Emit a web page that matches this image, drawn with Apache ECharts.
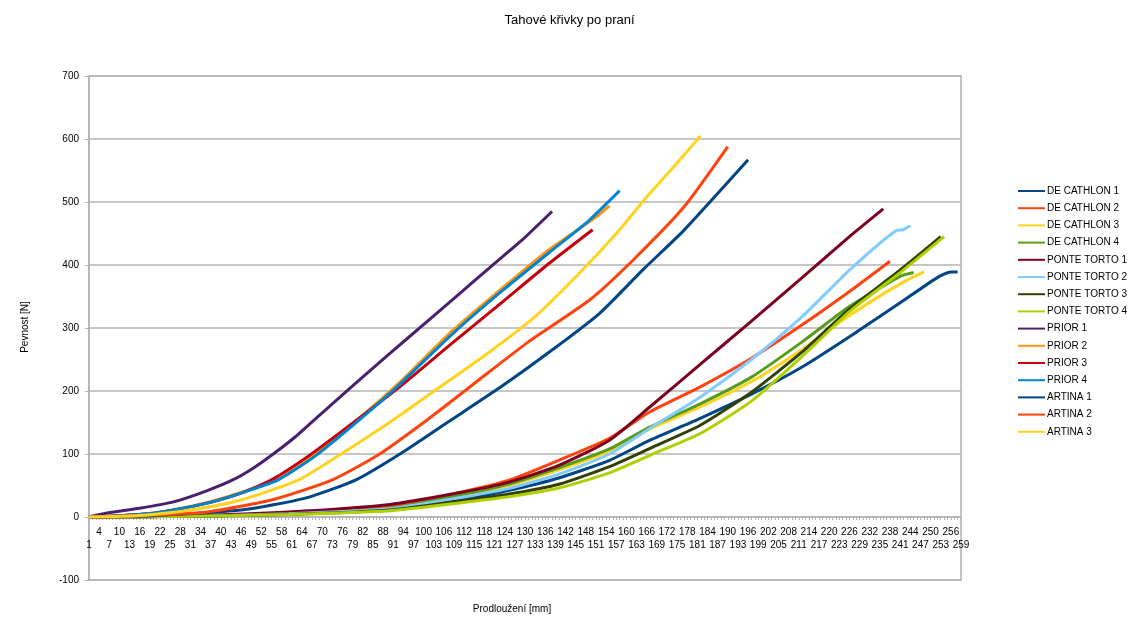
<!DOCTYPE html>
<html>
<head>
<meta charset="utf-8">
<title>Tahové křivky po praní</title>
<script src="https://cdn.jsdelivr.net/npm/echarts@6/dist/echarts.min.js"></script>
<style>
  html, body { margin: 0; padding: 0; background: #fff; }
  #chart { width: 1139px; height: 619px; }
</style>
</head>
<body>
<div id="chart"></div>
<script>
// Elongation steps (category axis 1..259)
const stepCount = 259;
const categories = Array.from({ length: stepCount }, (_, i) => String(i + 1));

// Series names
const seriesNames = [
  'DE CATHLON 1', 'DE CATHLON 2', 'DE CATHLON 3', 'DE CATHLON 4',
  'PONTE TORTO 1', 'PONTE TORTO 2', 'PONTE TORTO 3', 'PONTE TORTO 4',
  'PRIOR 1', 'PRIOR 2', 'PRIOR 3', 'PRIOR 4',
  'ARTINA 1', 'ARTINA 2', 'ARTINA 3'
];

// Measured curves: [step, force N]
const deCathlon1 = [[1,0],[30,1],[60,5],[90,12],[110,26],[125,42],[140,62],[155,90],[167,122],[182,157],[197,195],[212,238],[226,286],[241,340],[252,380],[256,389],[258,389]];
const deCathlon2 = [[1,0],[30,1],[60,6],[90,16],[110,38],[125,58],[140,90],[155,125],[167,167],[182,207],[197,252],[212,305],[226,358],[238,406]];
const deCathlon3 = [[1,0],[30,1],[60,5],[90,13],[110,32],[125,50],[140,75],[155,105],[167,140],[182,175],[197,215],[212,266],[226,320],[241,370],[248,389]];
const deCathlon4 = [[1,0],[30,1],[60,5],[90,14],[110,34],[125,52],[140,78],[155,108],[167,143],[182,180],[197,222],[212,278],[226,334],[241,382],[245,388]];
const ponteTorto1 = [[1,0],[30,2],[60,8],[90,20],[110,38],[125,55],[140,82],[155,122],[167,175],[182,243],[197,311],[212,380],[226,445],[236,489]];
const ponteTorto2 = [[1,0],[30,1],[60,5],[90,13],[110,30],[125,45],[140,68],[155,100],[167,141],[182,191],[197,250],[212,318],[226,392],[240,455],[242,456],[244,463]];
const ponteTorto3 = [[1,0],[30,1],[60,4],[90,11],[110,25],[125,36],[140,52],[155,80],[167,109],[182,146],[197,198],[212,262],[226,330],[241,392],[253,445]];
const ponteTorto4 = [[1,0],[30,1],[60,4],[90,10],[110,22],[125,32],[140,46],[155,70],[167,98],[182,133],[197,184],[212,255],[226,326],[241,388],[254,445]];
const prior1 = [[1,0],[6,6],[16,14],[26,24],[36,42],[44,60],[50,79],[56,102],[62,127],[67,151],[79,208],[89,255],[101,310],[111,356],[120,398],[129,439],[138,485]];
const prior2 = [[1,0],[10,2],[20,6],[26,11],[36,23],[46,39],[57,61],[68,100],[81,157],[93,214],[108,293],[123,362],[137,424],[150,472],[155,494]];
const prior3 = [[1,0],[10,2],[20,6],[26,11],[36,22],[46,38],[55,59],[66,97],[78,145],[93,207],[108,274],[123,340],[137,402],[150,456]];
const prior4 = [[1,0],[10,2],[20,6],[26,11],[36,22],[46,38],[57,59],[68,97],[81,154],[93,211],[108,288],[123,358],[137,419],[149,471],[158,518]];
const artina1 = [[1,0],[10,1],[20,2],[46,11],[65,30],[80,59],[93,100],[107,150],[123,207],[138,265],[152,323],[165,393],[177,455],[196,567]];
const artina2 = [[1,0],[10,1],[20,3],[36,8],[55,27],[73,59],[87,100],[101,154],[115,212],[131,278],[149,344],[162,408],[177,492],[190,588]];
const artina3 = [[1,0],[10,1],[20,4],[31,11],[46,27],[63,59],[75,98],[91,154],[105,207],[119,260],[133,318],[147,392],[158,456],[166,508],[174,556],[182,605]];

const seriesValues = [
  deCathlon1, deCathlon2, deCathlon3, deCathlon4,
  ponteTorto1, ponteTorto2, ponteTorto3, ponteTorto4,
  prior1, prior2, prior3, prior4,
  artina1, artina2, artina3
];

const seriesColors = [
  '#004586', '#ff420e', '#ffd320', '#579d1c',
  '#7e0021', '#83caff', '#314004', '#aecf00',
  '#4b1f6f', '#ff950e', '#c5000b', '#0084d1',
  '#004586', '#ff420e', '#ffd320'
];

// Force axis ticks
const yMin = -100, yMax = 700, yStep = 100;

const font = '"Liberation Sans", Arial, sans-serif';
const gridColor = '#b3b3b3';

// Plot box in pixels; the category axis sits on the zero line
const plot = { left: 89, right: 178, top: 76, bottom: 39 };
const plotHeight = 619 - plot.top - plot.bottom;
const zeroOffset = plotHeight * (0 - yMin) / (yMax - yMin);

// Step labels: every third step, alternating between two rows
const labelStyle = { fontSize: 10, color: '#000', fontFamily: font };
const upperRow = (index) => index % 6 === 3;
const lowerRow = (index) => index % 6 === 0;

const chart = echarts.init(document.getElementById('chart'), null, { renderer: 'canvas' });

chart.setOption({
  animation: false,
  backgroundColor: '#ffffff',
  textStyle: { fontFamily: font },
  title: {
    text: 'Tahové křivky po praní',
    left: 'center',
    top: 9,
    textStyle: { fontFamily: font, fontSize: 13, fontWeight: 'normal', color: '#000' }
  },
  legend: {
    orient: 'vertical',
    left: 1013,
    top: 181,
    itemWidth: 27,
    itemHeight: 10,
    itemGap: 7.2,
    icon: 'path://M0,4 L27,4 L27,6 L0,6 Z',
    textStyle: { fontFamily: font, fontSize: 10, color: '#000', padding: [0, 0, 0, -3] },
    data: seriesNames
  },
  grid: {
    left: plot.left, right: plot.right, top: plot.top, bottom: plot.bottom,
    show: true, borderColor: gridColor, borderWidth: 1.5
  },
  xAxis: [
    {
      type: 'category',
      data: categories,
      boundaryGap: false,
      offset: -zeroOffset,
      axisLine: { onZero: false, lineStyle: { color: gridColor, width: 1.5 } },
      axisTick: { show: true, interval: 0, length: 3, lineStyle: { color: gridColor } },
      axisLabel: Object.assign({ interval: upperRow, margin: 10 }, labelStyle),
      splitLine: { show: false }
    },
    {
      type: 'category',
      data: categories,
      boundaryGap: false,
      position: 'bottom',
      offset: -zeroOffset,
      axisLine: { show: false, onZero: false },
      axisTick: { show: false },
      axisLabel: Object.assign({ interval: lowerRow, margin: 23.5, showMinLabel: true, showMaxLabel: true }, labelStyle),
      splitLine: { show: false }
    }
  ],
  yAxis: {
    type: 'value',
    min: yMin, max: yMax, interval: yStep,
    axisLine: { show: true, lineStyle: { color: gridColor, width: 1.5 } },
    axisTick: { show: true, length: 4, lineStyle: { color: gridColor } },
    axisLabel: { margin: 10, fontSize: 10, color: '#000', fontFamily: font },
    splitLine: { show: true, lineStyle: { color: gridColor, width: 1.5 } }
  },
  graphic: [
    {
      type: 'text',
      x: 25, y: 327,
      rotation: Math.PI / 2,
      style: { text: 'Pevnost [N]', font: '10px ' + font, fill: '#000', textAlign: 'center', textVerticalAlign: 'middle' }
    },
    {
      type: 'text',
      x: 512, y: 609,
      style: { text: 'Prodloužení [mm]', font: '10px ' + font, fill: '#000', textAlign: 'center', textVerticalAlign: 'middle' }
    }
  ],
  series: seriesNames.map((name, i) => ({
    name,
    type: 'line',
    xAxisIndex: 0,
    symbol: 'none',
    smooth: 0.2,
    color: seriesColors[i],
    lineStyle: { width: 3, color: seriesColors[i] },
    data: seriesValues[i].map(([step, v]) => [step - 1, v])
  }))
});
</script>
</body>
</html>
